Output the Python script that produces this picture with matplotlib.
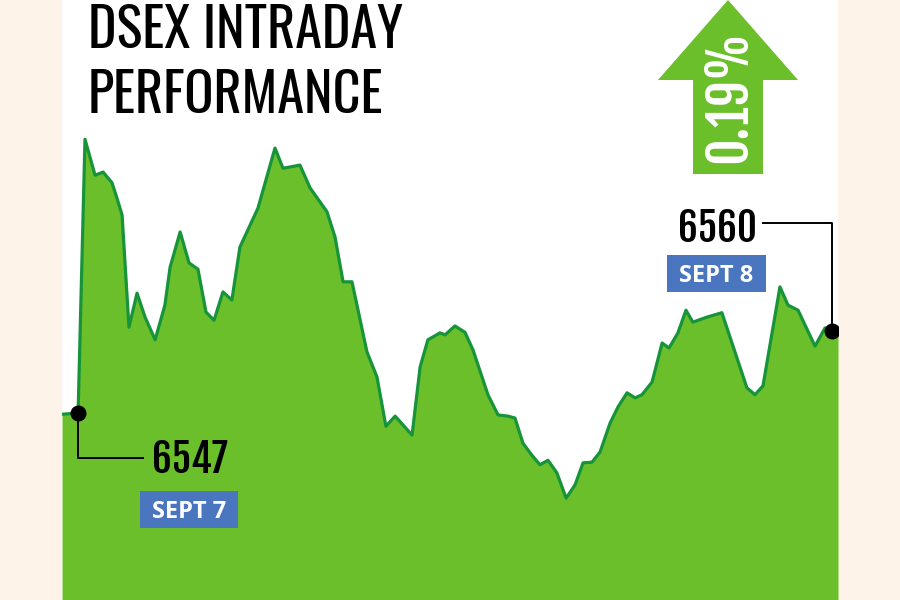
import numpy as np
import matplotlib
matplotlib.use("Agg")
import matplotlib.pyplot as plt
from matplotlib.patches import Polygon, Rectangle

# minutes after 10:00 and DSEX value
minutes = [0.0, 5.6, 8.0, 11.5, 14.3, 17.4, 19.1, 20.9, 23.3, 26.1, 28.9, 32.4,
           35.8, 37.6, 41.1, 44.2, 47.3, 50.1, 52.9, 56.0, 59.1, 61.9, 68.2, 74.1,
           76.9, 82.8, 86.3, 92.2, 95.0, 97.8, 100.9, 106.1, 109.6, 112.7, 115.9,
           121.8, 124.6, 127.3, 131.5, 133.3, 136.7, 140.2, 143.0, 148.2, 151.7,
           155.2, 157.6, 160.4, 163.5, 166.3, 169.1, 172.2, 175.4, 178.5, 181.3,
           184.4, 187.2, 190.7, 193.5, 196.6, 199.4, 201.8, 205.3, 208.8, 211.2,
           214.3, 217.1, 219.5, 224.4, 229.6, 238.3, 241.1, 243.9, 249.8, 252.6,
           256.1, 262.0, 265.5, 267.9, 270.0]
dsex = [6546.8, 6547.0, 6590.4, 6584.7, 6585.2, 6583.5, 6581.1, 6578.4, 6560.6,
        6566.0, 6562.2, 6558.6, 6564.1, 6570.1, 6575.7, 6570.8, 6569.8, 6563.0,
        6561.7, 6566.2, 6564.9, 6573.3, 6579.5, 6589.0, 6585.8, 6586.3, 6582.7,
        6578.9, 6574.9, 6567.8, 6567.8, 6556.7, 6552.7, 6544.9, 6546.5, 6543.5,
        6554.3, 6558.6, 6559.7, 6559.4, 6560.8, 6559.8, 6557.0, 6549.9, 6546.7,
        6546.5, 6546.2, 6542.2, 6540.3, 6538.8, 6539.5, 6537.5, 6533.5, 6535.6,
        6539.1, 6539.2, 6540.8, 6545.4, 6548.0, 6550.2, 6549.4, 6549.9, 6551.9,
        6558.1, 6557.3, 6559.7, 6563.3, 6561.4, 6562.2, 6562.9, 6551.0, 6549.9,
        6551.3, 6567.0, 6564.1, 6563.3, 6557.6, 6560.5, 6560.0, 6560.0]

open_label, close_label = "6547", "6560"
open_day, close_day = "SEPT 7", "SEPT 8"
change = "0.19%"

cream = "#fdf3e8"
fill_green = "#6abf2a"
line_green = "#17943a"
box_blue = "#4a76c0"
title_font = ["Oswald", "Roboto Condensed", "DejaVu Sans"]
num_font = ["Fjalla One", "Oswald", "Roboto Condensed", "DejaVu Sans"]

fig = plt.figure(figsize=(9, 6), dpi=100, facecolor=cream)
W, H = 900, 600

def fx(px):
    return px / W

def fy(py):
    return 1 - py / H

ax = fig.add_axes([fx(62), 0, fx(838) - fx(62), 1])
ax.set_facecolor("white")
ax.set_xlim(0, 270)
ax.set_ylim(6517.35, 6612.48)
ax.set_xticks([])
ax.set_yticks([])
for s in ax.spines.values():
    s.set_visible(False)

ax.fill_between(minutes, dsex, 6517.35, color=fill_green, lw=0, zorder=1)
ax.plot(minutes[:-1], dsex[:-1], color=line_green, lw=2.3, zorder=2)

# leader lines to the labels
ax.plot([minutes[1], minutes[1], 28.2], [dsex[1], 6539.9, 6539.9],
        color="black", lw=1.4, zorder=3)
ax.plot([minutes[-2], minutes[-2], 243.9], [dsex[-2], 6577.1, 6577.1],
        color="black", lw=1.4, zorder=3)
ax.plot([minutes[1], minutes[-2]], [dsex[1], dsex[-2]], "o", color="black",
        ms=10.5, zorder=4)

# title
fig.text(fx(88), fy(48), "DSEX INTRADAY", family=title_font, fontsize=39,
         color="black", va="baseline")
fig.text(fx(88), fy(113), "PERFORMANCE", family=title_font, fontsize=39,
         color="black", va="baseline")

# values and dates
fig.text(fx(152), fy(473), open_label, family=num_font,
         fontsize=28, va="baseline")
fig.text(fx(678), fy(242), close_label, family=num_font,
         fontsize=28, va="baseline")

for (x0, y0, x1, y1), label in [((140, 491, 238, 528), open_day),
                                ((667, 255, 766, 292), close_day)]:
    fig.patches.append(Rectangle((fx(x0), fy(y1)), fx(x1) - fx(x0),
                                 fy(y0) - fy(y1), transform=fig.transFigure,
                                 color=box_blue, lw=0, zorder=5))
    fig.text(fx((x0 + x1) / 2), fy((y0 + y1) / 2), label, family="Open Sans",
             fontweight="bold", fontsize=17, color="white",
             ha="center", va="center_baseline", zorder=6)

# arrow with change
arrow_px = [(728, 0), (798, 80), (763, 80), (763, 174), (693, 174), (693, 80), (658, 80)]
fig.patches.append(Polygon([(fx(x), fy(y)) for x, y in arrow_px], closed=True,
                           transform=fig.transFigure, color=fill_green, lw=0,
                           zorder=5))
fig.text(fx(729), fy(97), change, family=num_font, fontsize=37,
         color="white", rotation=90, ha="center", va="center", zorder=6)

fig.savefig("out.png", dpi=100, facecolor=cream)
